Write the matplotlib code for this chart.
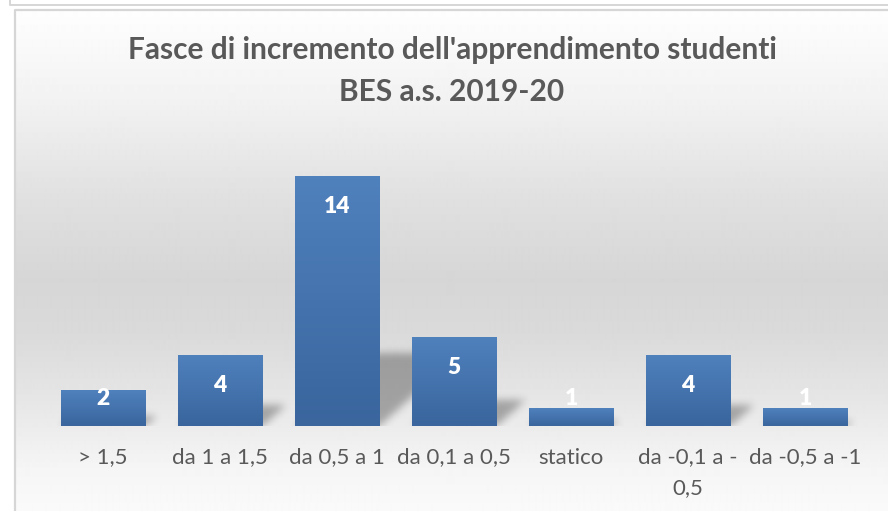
import numpy as np
import matplotlib
matplotlib.use("Agg")
import matplotlib.pyplot as plt
from matplotlib.colors import LinearSegmentedColormap

# ======== dati ========
categories = ['> 1,5', 'da 1 a 1,5', 'da 0,5 a 1', 'da 0,1 a 0,5', 'statico',
              'da -0,1 a -\n0,5', 'da -0,5 a -1']
values = [2, 4, 14, 5, 1, 4, 1]
title_lines = ["Fasce di incremento dell'apprendimento studenti", "BES a.s. 2019-20"]

W, H = 888, 511
plt.rcParams['font.family'] = ['Lato', 'DejaVu Sans']
grey_txt = '#595959'

fig = plt.figure(figsize=(W / 100, H / 100), dpi=100)

# ======== sfondo con sfumatura ========
bg = fig.add_axes([0, 0, 1, 1])
bg.set_xlim(0, W)
bg.set_ylim(H, 0)
bg.axis('off')
rows = np.arange(10, H)
gray = np.interp(rows, [10, 100, 200, 280, 333, 400, 467, 511],
                 [254, 242, 224, 214, 218, 230, 245, 250]) / 255
bg.imshow(np.repeat(gray[:, None], 2, axis=1), cmap='gray', vmin=0, vmax=1,
          extent=(15, W, H, 10), aspect='auto', interpolation='bilinear')
bg.plot([15, 15, W], [H, 10, 10], color='#d6d6d6', lw=1.6)
bg.plot([10, 10, W], [0, 5, 5], color='#d6d6d6', lw=1.4)

# ======== area del grafico ========
left, right, base, ymax = 44.5, 863.5, 426, 15
ppu = 268 / ymax
ax = fig.add_axes([left / W, (H - base) / H, (right - left) / W, 268 / H])
ax.patch.set_visible(False)
for s in ax.spines.values():
    s.set_visible(False)

x = np.arange(len(values))
bw = 0.72

# ombre (prospettiva diagonale)
Wp, Hp = int(right - left), 268
upx = 117.0
xpx = np.arange(Wp) + 0.5
yup = Hp - np.arange(Hp) - 0.5
XX, YY = np.meshgrid(xpx, yup)
mask = np.zeros((Hp, Wp))
for i, v in enumerate(values):
    c = (i + 0.5) * upx
    half = bw / 2 * upx
    hpx = v * ppu
    hs, sh = 0.29 * hpx, 0.32 * hpx
    t = YY / hs
    inside = (t <= 1) & (XX >= c - half + sh * t) & (XX <= c + half + sh * t)
    mask = np.maximum(mask, inside.astype(float))
k = np.exp(-0.5 * (np.arange(-12, 13) / 4.0) ** 2)
k /= k.sum()
mask = np.apply_along_axis(lambda r: np.convolve(r, k, 'same'), 1, mask)
mask = np.apply_along_axis(lambda r: np.convolve(r, k, 'same'), 0, mask)
shadow = np.zeros((Hp, Wp, 4))
shadow[..., 3] = 0.3 * mask
ax.imshow(shadow, extent=(-0.5, 6.5, 0, ymax), aspect='auto', zorder=2)

# barre con sfumatura
bar_cmap = LinearSegmentedColormap.from_list('barre', ['#4f81bd', '#3a659d'])
bars = ax.bar(x, values, width=bw, color='#4573ad', zorder=3)
for b in bars:
    im = ax.imshow(np.linspace(0, 1, 64)[:, None], cmap=bar_cmap,
                   extent=(b.get_x(), b.get_x() + b.get_width(), 0, b.get_height()),
                   aspect='auto', zorder=4)
    im.set_clip_path(b)

for i, v in enumerate(values):
    ax.text(i, max(v - 31 / ppu, 28 / ppu), str(v), ha='center', va='center',
            color='white', fontweight='heavy', fontsize=16.5, zorder=5)

ax.set_xlim(-0.5, 6.5)
ax.set_ylim(0, ymax)
ax.set_yticks([])
ax.set_xticks(x, categories)
ax.tick_params(axis='x', length=0, pad=15.5, labelsize=16, labelcolor=grey_txt)
for lab in ax.get_xticklabels():
    lab.set_linespacing(1.65)

# titolo
fig.text(452 / W, 1 - 50 / H, title_lines[0], ha='center', va='center',
         fontsize=21.5, fontweight='bold', color=grey_txt)
fig.text(452 / W, 1 - 92 / H, title_lines[1], ha='center', va='center',
         fontsize=21.5, fontweight='bold', color=grey_txt)

fig.savefig('out.png', dpi=100)
